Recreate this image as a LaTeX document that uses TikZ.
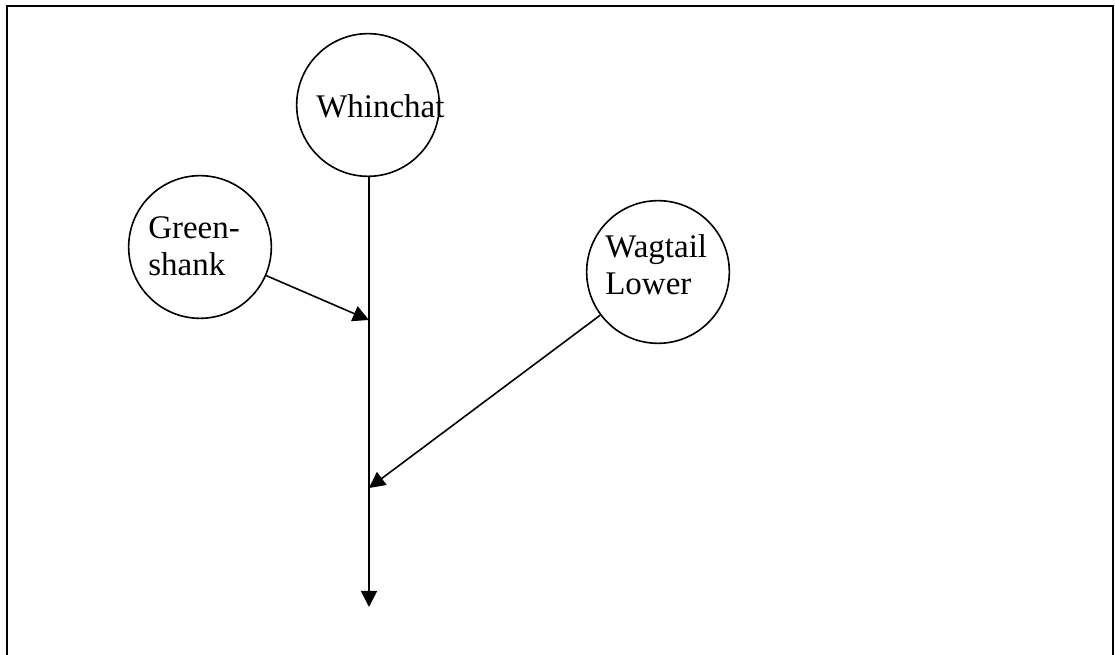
\documentclass[tikz,border=0pt]{standalone}
\usepackage{fontspec}
\setmainfont{Liberation Serif}
\usetikzlibrary{positioning, arrows.meta}

\begin{document}
\begin{tikzpicture}
			[x=0.75pt, y=-0.75pt,
			bird/.style={circle, draw, line width=1.2pt, minimum size=107pt, inner sep=0pt},
			birdname/.style={font=\fontsize{24.75}{28}\selectfont, align=left, inner sep=0pt},
			flow/.style={-{Triangle[length=12pt, width=12pt]}, line width=1.2pt}]
		\useasboundingbox (0,0) rectangle (1115,655);
		\draw[line width=1.6pt] (7,6) rectangle (1113,680);

		% nodes %
		\node[bird] (whinchat) at (368,105) {};
		\node[bird] (greenshank) at (200,247) {};
		\node[bird] (wagtail) at (658,272) {};
		\node[birdname, anchor=base west] (whinchat-name) at (316,118) {Whinchat};
		\node[birdname, anchor=base west] (greenshank-name) at (148,276) {Green-\\shank};
		\node[birdname, anchor=base west] (wagtail-name) at (605,295) {Wagtail\\Lower};
		\coordinate (upper-join) at (369,320);
		\coordinate (lower-join) at (369,488);
		\coordinate (outlet) at (369,607);

		% edges %
		\draw[flow] (whinchat.south -| outlet) -- (outlet);
		\draw[flow] (greenshank) -- (upper-join);
		\draw[flow] (wagtail) -- (lower-join);
\end{tikzpicture}
\end{document}
